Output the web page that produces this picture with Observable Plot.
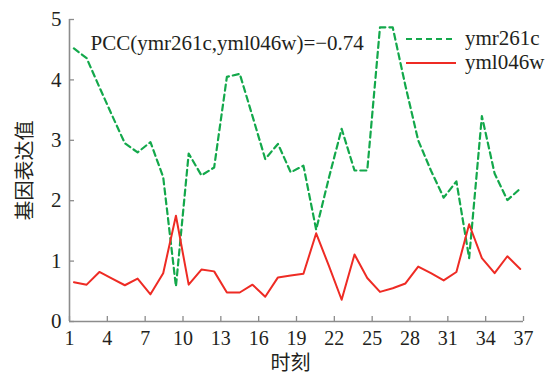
<!DOCTYPE html>
<html><head><meta charset="utf-8">
<script src="https://cdn.jsdelivr.net/npm/d3@7"></script>
<script src="https://cdn.jsdelivr.net/npm/@observablehq/plot@0.6"></script>
<style>
body{margin:0;background:#fff}
#wrap{position:relative;width:546px;height:376px;overflow:hidden}
.leg{position:absolute;font-family:"Liberation Serif",serif;font-size:21px;color:#231f20;line-height:1;white-space:nowrap}
.legsvg{position:absolute}
</style></head><body><div id="wrap"></div>
<script>
const time = [1.35,2.36,3.37,4.38,5.39,6.40,7.42,8.43,9.44,10.45,11.46,12.47,13.48,14.50,15.51,16.52,17.53,18.54,19.55,20.56,21.57,22.58,23.60,24.61,25.62,26.63,27.64,28.65,29.66,30.67,31.68,32.69,33.70,34.71,35.72,36.74];
const ymr261c = [4.52,4.36,3.88,3.41,2.95,2.80,2.97,2.39,0.58,2.78,2.42,2.55,4.05,4.10,3.40,2.69,2.94,2.47,2.58,1.52,2.38,3.19,2.50,2.50,4.87,4.87,3.90,3.00,2.50,2.05,2.32,1.05,3.40,2.45,2.01,2.20];
const yml046w = [0.65,0.61,0.82,0.71,0.60,0.71,0.45,0.80,1.75,0.61,0.86,0.83,0.48,0.48,0.61,0.41,0.73,0.76,0.79,1.46,0.92,0.36,1.11,0.72,0.49,0.55,0.63,0.91,0.80,0.68,0.82,1.61,1.05,0.80,1.08,0.87];
const xTicks = [1,4,7,10,13,16,19,22,25,28,31,34,37];
const yTicks = [0,1,2,3,4,5];
const seriesNames = ["ymr261c","yml046w"];
const pccText = "PCC(ymr261c,yml046w)=\u22120.74";
const xLabel = "时刻";
const yLabel = "基因表达值";

const green = "#13a84b", red = "#ee2b24", axisColor = "#8c8c8c", textColor = "#231f20";
const serif = "'Liberation Serif', 'Times New Roman', serif";
const rows = time.map((t, i) => ({t, g: ymr261c[i], r: yml046w[i]}));

const plot = Plot.plot({
  width: 546, height: 376,
  marginLeft: 69, marginRight: 23, marginTop: 19, marginBottom: 55,
  style: {fontFamily: serif, fontSize: "20px", color: textColor, background: "white"},
  x: {domain: [1, 37]},
  y: {domain: [0, 5]},
  marks: [
    Plot.axisX(xTicks, {tickSize: -5, tickPadding: 14, stroke: axisColor, fill: textColor, label: null, strokeWidth: 1.3, tickFormat: d3.format("d"), fontSize: 20}),
    Plot.axisY(yTicks, {tickSize: -5, tickPadding: 13, stroke: axisColor, fill: textColor, label: null, strokeWidth: 1.3, tickFormat: d3.format("d"), fontSize: 21}),
    Plot.ruleX([1], {stroke: axisColor, strokeWidth: 1.6}),
    Plot.ruleY([0], {stroke: axisColor, strokeWidth: 1.6}),
    Plot.line(rows, {x: "t", y: "g", stroke: green, strokeWidth: 2.2, strokeDasharray: "6,4"}),
    Plot.line(rows, {x: "t", y: "r", stroke: red, strokeWidth: 2}),
    Plot.text([pccText], {frameAnchor: "top-left", dx: 21, dy: 16, textAnchor: "start", fontSize: 21, fontFamily: serif, fill: textColor}),
    Plot.text([yLabel], {frameAnchor: "left", dx: -44, textAnchor: "middle", rotate: -90, fontFamily: "'Noto Sans CJK SC'", fontSize: 20, fill: textColor}),
    Plot.text([xLabel], {frameAnchor: "bottom", dx: -6, dy: 42, lineAnchor: "middle", fontFamily: "'Noto Sans CJK SC'", fontSize: 20, fill: textColor})
  ]
});
// serif tick labels
d3.select(plot).selectAll("text").each(function() {
  if (/^[0-9]+$/.test(this.textContent.trim())) {
    this.style.fontFamily = "Liberation Serif, serif";
    this.style.fontVariant = "normal";
  }
});
const wrap = document.getElementById("wrap");
wrap.appendChild(plot);

// legend
const legItems = [
  {name: seriesNames[0], color: green, dash: "6,4", y: 39},
  {name: seriesNames[1], color: red, dash: null, y: 63}
];
for (const it of legItems) {
  const s = d3.create("svg").attr("class", "legsvg").attr("width", 52).attr("height", 6)
    .style("left", "405px").style("top", (it.y - 3) + "px");
  s.append("line").attr("x1", 1).attr("x2", 51).attr("y1", 3).attr("y2", 3)
    .attr("stroke", it.color).attr("stroke-width", 2.2).attr("stroke-dasharray", it.dash);
  wrap.appendChild(s.node());
  const d = document.createElement("div");
  d.className = "leg";
  d.textContent = it.name;
  d.style.left = "465px";
  d.style.top = (it.y - 11) + "px";
  wrap.appendChild(d);
}
</script></body></html>
